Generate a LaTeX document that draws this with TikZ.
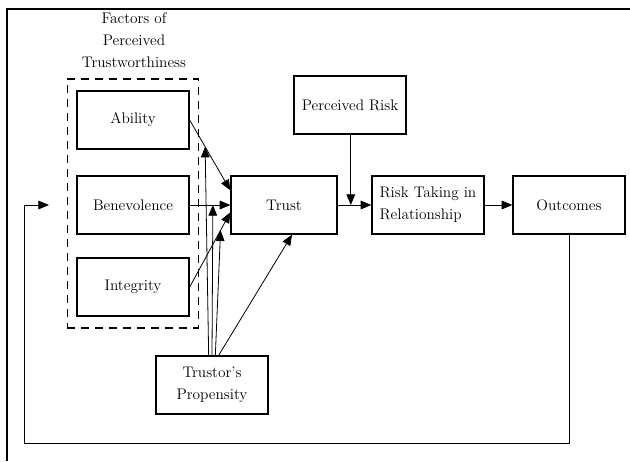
\documentclass[tikz,border=0pt]{standalone}
\usepackage{tikz}
\usetikzlibrary{arrows.meta}
\usetikzlibrary{fit}

\begin{document}
\begin{tikzpicture}[
    x=0.75pt, y=-0.75pt,
    >={Triangle[length=8pt, width=6.5pt]},
    box/.style={draw, line width=1pt, minimum width=84pt, minimum height=43.5pt, align=center, font=\fontsize{11.5}{16.5}\selectfont},
    link/.style={->, line width=0.6pt},
    group/.style={draw, line width=1.2pt, dash pattern=on 6pt off 4.5pt, inner xsep=6.75pt, inner ysep=8.5pt},
    title/.style={align=center, font=\fontsize{11.5}{16.5}\selectfont}
]
\useasboundingbox (0,0) rectangle (630,461);

% --- Frame ---
\draw[line width=0.8pt] (7,461) -- (7,9) -- (630,9);

% --- Factors of perceived trustworthiness ---
\node[title] (factors) at (134,40) {Factors of\\Perceived\\Trustworthiness};

\node[box] (abil) at (133,120) {Ability};
\node[box] (benev) at (133,205) {Benevolence};
\node[box] (integ) at (133,287) {Integrity};

\node[group, fit=(abil)(benev)(integ)] (factbox) {};

% --- Main chain ---
\node[box, minimum width=79.5pt] (trust) at (284,205) {Trust};
\node[box] (prisk) at (350,105) {Perceived Risk};
\node[box, align=left] (risktake) at (428,205) {Risk Taking in\\Relationship};
\node[box] (outcomes) at (569,205) {Outcomes};
\node[box] (propens) at (212,385) {Trustor's\\Propensity};

% Factors to trust
\draw[link] (abil.east) -- coordinate[pos=0.38] (abmid) ([yshift=11pt]trust.west);
\draw[link] (benev) -- coordinate[pos=0.57] (bemid) (trust);
\draw[link] (integ.east) -- coordinate[pos=0.76] (inmid) ([yshift=-5.5pt]trust.west);

% Propensity moderates each link
\draw[link] ([xshift=-2.5pt]propens.north) -- (abmid);
\draw[link] ([xshift=0pt]propens.north) -- (bemid);
\draw[link] ([xshift=2.5pt]propens.north) -- (inmid);
\draw[link] ([xshift=5pt]propens.north) -- ([xshift=6pt]trust.south);

% Trust to risk taking, with perceived risk
\draw[link] (trust) -- coordinate[pos=0.39] (trmid) (risktake);
\draw[link] (prisk.south -| trmid) -- (trmid);
\draw[link] (risktake) -- (outcomes);

% --- Feedback loop ---
\coordinate (fbend) at (49,205);
\draw[link, line width=0.5pt] (outcomes.south) -- (outcomes.south |- 0,443) -| (24,205) -- (fbend);

\end{tikzpicture}
\end{document}
